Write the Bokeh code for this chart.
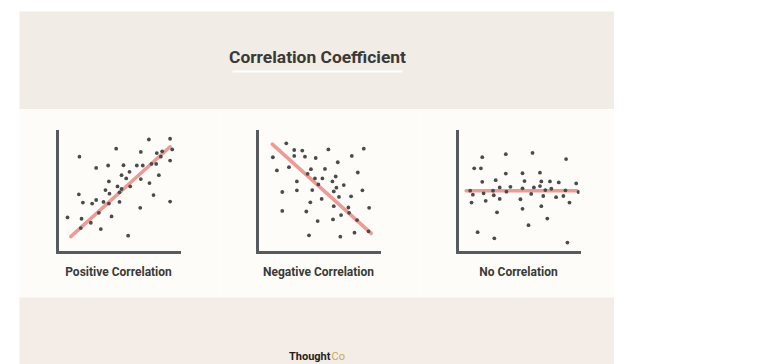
from bokeh.plotting import figure
from bokeh.layouts import row, column
from bokeh.models import Spacer, Range1d, FixedTicker
from bokeh.core.properties import value
from bokeh.embed import file_html
from bokeh.resources import INLINE

# ---- data (0..100 units per panel) ----
title_text = "Correlation Coefficient"
panel_titles = ["Positive Correlation", "Negative Correlation", "No Correlation"]
logo_parts = ["Thought", "Co"]

pos_x = [8.2, 18.0, 17.5, 20.8, 19.7, 19.1, 27.3, 28.4, 31.7, 31.7, 33.9, 35.5, 37.7, 39.3,
         41.5, 42.1, 42.1, 42.6, 44.3, 48.1, 49.2, 50.8, 50.8, 52.5, 52.5, 54.1, 56.3, 57.9,
         59.0, 59.6, 65.0, 68.3, 68.3, 67.8, 69.9, 74.9, 75.4, 77.0, 78.7, 80.9, 81.4, 83.1,
         84.7, 85.8, 92.3, 94.0, 92.3, 92.3]
pos_y = [29.0, 79.2, 48.1, 41.3, 27.9, 20.2, 24.6, 40.4, 69.9, 43.4, 32.8, 19.4, 41.8, 51.6,
         71.9, 58.7, 40.4, 48.6, 29.8, 85.8, 54.6, 49.7, 41.8, 63.9, 52.5, 72.1, 61.2, 13.9,
         66.7, 54.6, 71.9, 83.1, 60.7, 36.9, 71.9, 93.4, 57.4, 73.2, 47.5, 73.2, 82.2, 63.9,
         79.2, 83.6, 94.0, 85.2, 76.0, 42.1]
pos_fit_x = [10.9, 92.3]
pos_fit_y = [13.1, 87.4]

neg_x = [12.6, 15.9, 20.3, 20.3, 23.6, 25.8, 30.1, 30.1, 32.3, 32.3, 36.7, 38.9, 40.0, 41.1,
         42.2, 43.3, 43.8, 44.9, 47.1, 47.7, 49.3, 49.9, 52.6, 53.2, 55.3, 58.1, 61.4, 62.5,
         62.5, 61.9, 64.1, 64.7, 65.8, 66.8, 68.5, 67.9, 70.7, 74.5, 75.1, 76.7, 77.3, 79.5,
         81.6, 82.2, 86.0, 87.1, 91.5, 91.0]
neg_y = [78.7, 67.8, 50.0, 34.4, 90.2, 70.5, 84.7, 79.8, 58.7, 51.4, 84.2, 79.2, 33.9, 65.0,
         14.2, 41.5, 68.9, 51.6, 61.2, 78.1, 26.0, 56.3, 44.3, 61.2, 69.1, 85.2, 58.7, 50.5,
         38.3, 27.3, 62.8, 53.6, 74.6, 45.9, 30.9, 13.1, 55.7, 37.2, 32.8, 46.4, 79.8, 16.4,
         26.8, 66.1, 51.4, 85.8, 36.9, 17.5]
neg_fit_x = [12.1, 93.2]
neg_fit_y = [89.6, 15.8]

no_x = [10.4, 11.5, 12.6, 13.7, 16.5, 19.2, 20.3, 20.3, 21.4, 23.1, 29.1, 29.7, 30.2, 31.3,
        32.4, 34.6, 34.6, 39.6, 39.6, 40.1, 43.4, 51.6, 53.3, 53.3, 53.3, 54.9, 58.2, 60.4,
        61.5, 62.6, 67.6, 67.6, 68.7, 68.7, 70.3, 72.0, 73.6, 75.8, 76.9, 80.8, 83.0, 86.8,
        88.5, 89.0, 90.1, 91.8, 97.3, 99.2]
no_y = [51.1, 41.3, 47.8, 69.6, 16.8, 69.6, 78.8, 58.4, 48.9, 42.7, 51.1, 47.3, 11.7, 59.8,
        33.2, 44.3, 53.8, 81.3, 65.2, 50.3, 54.3, 44.0, 36.1, 53.0, 65.5, 59.0, 22.6, 48.4,
        82.3, 53.8, 54.9, 66.0, 58.7, 38.3, 46.7, 51.6, 28.0, 58.7, 52.7, 45.7, 57.9, 46.7,
        51.4, 77.2, 8.2, 41.3, 57.1, 50.0]
no_fit_x = [7.1, 97.8]
no_fit_y = [51.1, 51.1]

# ---- styles ----
TOP_BG = "#f1ece6"
MID_BG = "#fdfcf8"
BOT_BG = "#f4ece7"
TEXT = "#3b3937"
AXIS = "#575b60"
DOT = "#4b4b4b"
FIT = "#ec8f8a"
FONT = "Roboto"


def band(w, h, bg):
    p = figure(width=w, height=h, output_backend="svg", toolbar_location=None,
               x_range=Range1d(0, w), y_range=Range1d(0, h), min_border=0)
    p.axis.visible = False
    p.grid.visible = False
    p.outline_line_color = None
    p.background_fill_color = bg
    p.border_fill_color = bg
    return p


top = band(595, 98, TOP_BG)
top.text(x=[298], y=[53], text=[title_text], text_align="center", text_baseline="middle",
         text_font=value(FONT), text_font_style="bold", text_font_size="17.4px", text_color=TEXT)
top.segment(x0=[213], y0=[38], x1=[383], y1=[38], line_color="#ffffff", line_width=2)

bottom = band(595, 67, BOT_BG)
bottom.text(x=[311], y=[2], text=[logo_parts[0]], text_align="right", text_baseline="bottom",
            text_font=value(FONT), text_font_style="bold", text_font_size="11px",
            text_color="#1f1f1f")
bottom.text(x=[312], y=[2], text=[logo_parts[1]], text_align="left", text_baseline="bottom",
            text_font=value(FONT), text_font_size="11px", text_color="#c9a94f")


def panel(w, xs, ys, fx, fy, label):
    p = figure(width=w, height=188, output_backend="svg", toolbar_location=None,
               x_range=Range1d(0, 100), y_range=Range1d(0, 100),
               min_border_left=38, min_border_right=w - 38 - 122,
               min_border_top=22, min_border_bottom=45)
    p.grid.visible = False
    p.outline_line_color = None
    p.background_fill_color = MID_BG
    p.border_fill_color = MID_BG
    for ax in (p.xaxis[0], p.yaxis[0]):
        ax.ticker = FixedTicker(ticks=[])
        ax.major_tick_line_color = None
        ax.minor_tick_line_color = None
        ax.major_label_text_font_size = "0px"
        ax.axis_line_color = AXIS
        ax.axis_line_width = 3
        ax.axis_line_cap = "square"
    p.xaxis.axis_label = label
    p.xaxis.axis_label_text_font = FONT
    p.xaxis.axis_label_text_font_style = "bold"
    p.xaxis.axis_label_text_font_size = "12px"
    p.xaxis.axis_label_text_color = TEXT
    p.xaxis.axis_label_standoff = 12
    p.line(fx, fy, line_color=FIT, line_width=3.5, line_alpha=0.9, line_cap="round")
    p.scatter(xs, ys, size=3.8, fill_color=DOT, line_color=None)
    return p


p1 = panel(200, pos_x, pos_y, pos_fit_x, pos_fit_y, panel_titles[0])
p2 = panel(200, neg_x, neg_y, neg_fit_x, neg_fit_y, panel_titles[1])
p3 = panel(195, no_x, no_y, no_fit_x, no_fit_y, panel_titles[2])

layout = row(Spacer(width=19, height=364),
             column(Spacer(width=595, height=11), top, row(p1, p2, p3), bottom))

open("out.html", "w").write(file_html(layout, INLINE))
